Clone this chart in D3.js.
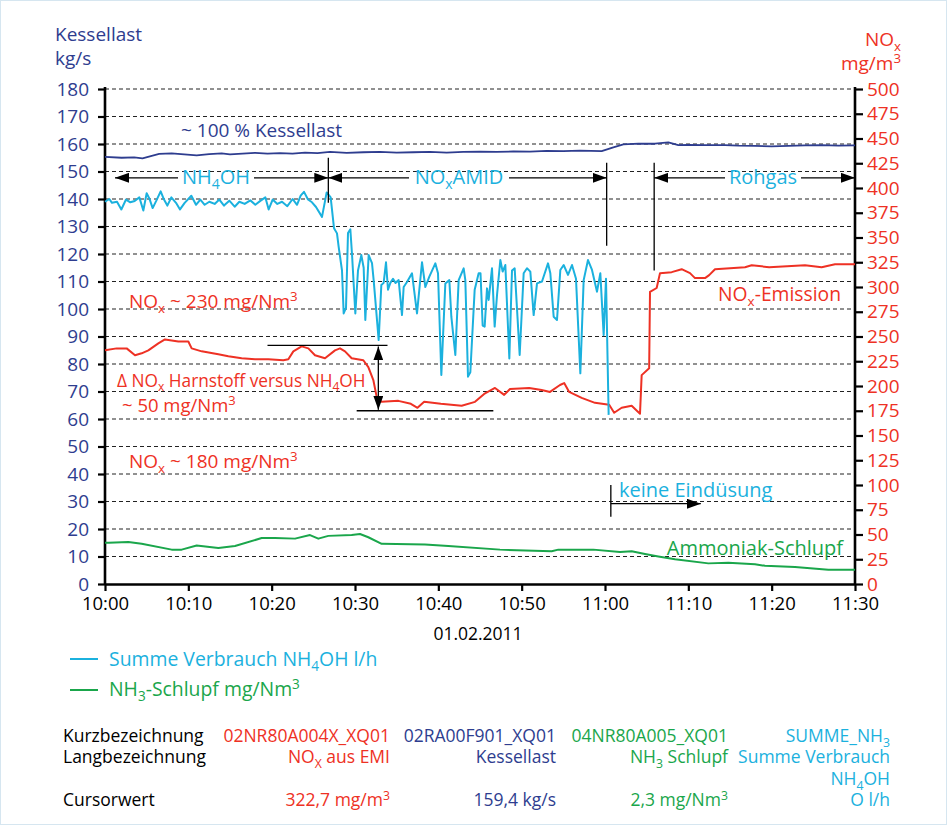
<!DOCTYPE html>
<html>
<head>
<meta charset="utf-8">
<script src="https://cdn.jsdelivr.net/npm/d3@7"></script>
<style>
  body { margin: 0; background: #fff; }
  svg { display: block; font-family: "Open Sans", sans-serif; }
</style>
</head>
<body>
<div id="chart"></div>
<script>
const BLUE = "#2e3d8f",
  RED = "#ee3124",
  CYAN = "#1bb1de",
  GREEN = "#1aa64b";

// minutes after 10:00
const kesselT = [0, 2, 3.5, 4.5, 5.5, 6.5, 8, 9.5, 11, 12.5, 14, 15, 16.5, 18, 19.5, 21, 22.5, 24, 25.5, 27, 29, 31, 33, 35, 37, 39, 41, 43, 45, 47, 49, 51, 53, 55, 57, 59.6, 61, 62.2, 64, 66, 67.6, 68.8, 70, 72, 74.4, 76, 78, 80, 82, 84, 86, 88, 90];
const kesselV = [155.3, 155.0, 155.1, 154.8, 155.6, 156.4, 156.6, 156.2, 155.9, 156.3, 156.6, 156.2, 156.5, 156.8, 156.5, 156.7, 156.5, 156.9, 156.7, 157.1, 156.8, 157.0, 157.1, 156.9, 157.0, 157.1, 156.9, 157.1, 157.2, 157.1, 157.3, 157.2, 157.5, 157.4, 157.6, 157.4, 158.8, 159.9, 160.1, 160.1, 160.6, 159.6, 159.7, 159.6, 159.6, 159.4, 159.3, 159.1, 159.3, 159.5, 159.6, 159.4, 159.5];

const noxT = [0, 1.4, 2.6, 3.6, 4.4, 5.2, 6.4, 7.2, 8.8, 10, 10.4, 11.6, 13.6, 14.8, 16.4, 18, 19.6, 21.4, 22, 22.6, 23.6, 24.4, 25.2, 26.4, 27.6, 28.2, 28.8, 29.6, 31, 31.6, 32.2, 32.6, 33.2, 35.2, 36.7, 37.5, 38.3, 40.3, 42.8, 44.4, 45.5, 46.8, 47.9, 48.6, 50.9, 52.4, 53.4, 54.6, 55.1, 55.7, 57.2, 58.8, 60.5, 61.1, 62, 63.2, 64.2, 64.4, 65.3, 65.4, 66.2, 66.6, 68, 69.2, 70.2, 70.8, 72, 72.5, 73.2, 76.8, 77.6, 79.7, 84, 86, 87.6, 90];
const noxV = [236, 238, 238, 231, 233, 236, 243, 247, 245, 245, 238, 235, 232, 230, 228, 227, 227, 226, 227, 235, 240, 238, 231, 228, 236, 238, 235, 228, 226, 219, 206, 189, 184, 185, 182, 178, 184, 182, 180, 184, 192, 198, 191, 197, 198, 196, 194, 201, 203, 194, 188, 183, 181, 173, 178, 180, 172, 211, 218, 295, 299, 314, 315, 318, 314, 309, 309, 312, 318, 320, 322, 320, 322, 320, 323, 323];

const summeT = [0, 0.52, 0.84, 1.44, 1.96, 2.52, 3.04, 3.56, 4.12, 4.6, 5.0, 5.32, 5.72, 6.16, 6.68, 7.08, 7.48, 7.96, 8.52, 9.0, 9.56, 10.36, 10.92, 11.44, 11.96, 12.52, 13.16, 13.72, 14.28, 14.92, 15.56, 16.12, 16.76, 17.44, 18.04, 18.68, 19.24, 19.64, 20.12, 20.68, 21.24, 21.88, 22.52, 23.04, 23.48, 23.88, 24.36, 24.84, 25.32, 26.04, 26.6, 27.08, 27.48, 27.84, 28.04, 28.44, 28.64, 28.92, 29.16, 29.44, 29.64, 30.04, 30.36, 30.76, 31.04, 31.24, 31.64, 32.04, 32.24, 32.84, 33.16, 33.44, 33.72, 33.96, 34.24, 34.56, 34.86, 35.24, 35.64, 35.84, 36.24, 36.84, 37.44, 38.04, 38.44, 38.92, 39.64, 39.96, 40.36, 40.84, 41.32, 41.56, 42.04, 42.44, 43.04, 43.24, 43.56, 43.84, 44.36, 44.84, 45.06, 45.32, 45.56, 45.84, 46.04, 46.44, 46.76, 47.04, 47.44, 47.72, 48.04, 48.52, 48.84, 49.16, 49.76, 50.24, 50.64, 51.04, 51.44, 51.84, 52.44, 53.16, 53.44, 53.84, 54.24, 54.64, 55.04, 55.56, 56.04, 56.52, 57.04, 57.44, 57.96, 58.44, 59.04, 59.44, 59.84, 60.12, 60.44];
const summeV = [139, 140, 138.6, 139, 136.2, 139.8, 138.8, 139.3, 140.6, 135.8, 142.1, 140.2, 136.7, 139.4, 142.8, 139.8, 137.6, 140.6, 138.6, 136.2, 138.6, 141.2, 137.9, 139.8, 137.9, 139, 138.2, 139.8, 137.6, 139.4, 137.2, 139, 138.2, 139.5, 137.9, 139.4, 140.6, 136.2, 139.8, 138.2, 139, 137.4, 140, 137.9, 141.2, 142.6, 139.8, 138.8, 137.1, 133.5, 142.4, 140.6, 129.4, 127.5, 122.6, 114, 98.4, 100.4, 127.6, 129, 120, 98.4, 114, 119.6, 115, 96, 119.6, 116.7, 110.5, 88.7, 108.7, 109.5, 117, 107, 109.5, 111, 109.5, 110.5, 97.8, 108, 109.8, 113, 98.4, 117, 108, 111.8, 116.6, 113, 76, 109.3, 110.5, 97.2, 83.3, 110.5, 114.8, 110.5, 75.4, 77, 107, 113, 113, 94, 93.6, 107.5, 103.3, 114.8, 93.6, 105, 117.8, 113.6, 116, 82, 114, 114.8, 83.3, 113, 114.8, 113.6, 97.8, 109.3, 110, 116.6, 113, 97.2, 96, 114.2, 116, 112.4, 116, 111, 76.6, 110.5, 117.8, 114.2, 106.3, 113, 90.5, 111, 61.5];

const schlupfT = [0, 0.44, 2.8, 4.4, 8, 9.2, 11, 13.6, 15.6, 18.8, 20.4, 22.8, 24.6, 25.6, 26.8, 29.6, 30.6, 31.6, 33.2, 38.4, 41.2, 47.4, 53.6, 54.4, 56.2, 58.6, 61.8, 63.2, 64.8, 66.4, 68.4, 72.4, 74.8, 78.0, 79.2, 82.8, 86.8, 90];
const schlupfV = [15, 15, 15.3, 14.6, 12.5, 12.5, 14, 13.1, 13.8, 16.7, 16.7, 16.5, 17.8, 16.5, 17.5, 17.8, 18.2, 17, 14.6, 14.4, 13.8, 12.5, 11.9, 12.5, 12.5, 12.5, 11.6, 11.9, 10.9, 10, 9, 7.5, 7.7, 7.2, 6.6, 6.2, 5.2, 5.2];

const leftTicks = d3.range(0, 181, 10),
  rightTicks = d3.range(0, 501, 25),
  phaseLabels = ["NH_{4}OH", "NO_{x}AMID", "Rohgas"],
  phaseStart = [0, 26.8, 65.9],
  phaseEnd = [26.8, 60.2, 90];

const tableHead = ["Kurzbezeichnung", "Langbezeichnung", "", "Cursorwert"],
  tableColors = [RED, BLUE, GREEN, CYAN],
  tableCols = [
    ["02NR80A004X_XQ01", "NO_{X} aus EMI", "", "322,7 mg/m^{3}"],
    ["02RA00F901_XQ01", "Kessellast", "", "159,4 kg/s"],
    ["04NR80A005_XQ01", "NH_{3} Schlupf", "", "2,3 mg/Nm^{3}"],
    ["SUMME_NH_{3}", "Summe Verbrauch", "NH_{4}OH", "O l/h"]
  ];

const WIDTH = 947,
  HEIGHT = 825,
  plotLeft = 105,
  plotRight = 855,
  plotTop = 89,
  plotBottom = 584,
  t0 = new Date(2011, 1, 1, 10, 0);

const minute = m => new Date(t0.getTime() + m * 60000);

const svg = d3.select("#chart").append("svg")
  .attr("width", WIDTH)
  .attr("height", HEIGHT);

const x = d3.scaleTime().domain([t0, minute(90)]).range([plotLeft, plotRight]),
  yL = d3.scaleLinear().domain([0, 180]).range([plotBottom, plotTop]),
  yR = d3.scaleLinear().domain([0, 500]).range([plotBottom, plotTop]);

// text with _{sub} and ^{sup} parts
function rich(sel, str, fs) {
  const parts = str.split(/(_\{[^}]*\}|\^\{[^}]*\})/).filter(p => p !== "");
  let shift = 0;
  parts.forEach(p => {
    let dy = 0, size = null, txt = p;
    if (p.startsWith("_{")) {
      txt = p.slice(2, -1); size = fs * 0.7; dy = fs * 0.26;
    } else if (p.startsWith("^{")) {
      txt = p.slice(2, -1); size = fs * 0.7; dy = -fs * 0.36;
    }
    const ts = sel.append("tspan").attr("dy", dy - shift).text(txt);
    if (size) ts.attr("font-size", size);
    shift = dy;
  });
  return sel;
}

function label(str, xp, yp, color, fs, anchor) {
  const t = svg.append("text")
    .attr("x", xp).attr("y", yp)
    .attr("fill", color)
    .attr("font-size", fs)
    .attr("text-anchor", anchor || "start");
  return rich(t, str, fs);
}

// arrowheads
const defs = svg.append("defs");
defs.append("marker")
  .attr("id", "arr")
  .attr("markerUnits", "userSpaceOnUse")
  .attr("viewBox", "0 0 14 10")
  .attr("refX", 14).attr("refY", 5)
  .attr("markerWidth", 14).attr("markerHeight", 10)
  .attr("orient", "auto-start-reverse")
  .append("path").attr("d", "M0,0L14,5L0,10Z").attr("fill", "#000");

// grid
svg.append("g")
  .selectAll("line")
  .data(leftTicks.filter(d => d > 0))
  .join("line")
  .attr("x1", plotLeft).attr("x2", plotRight)
  .attr("y1", d => yL(d)).attr("y2", d => yL(d))
  .attr("stroke", "#222")
  .attr("stroke-width", 1)
  .attr("stroke-dasharray", "4,3");

// axes
const axL = svg.append("g")
  .attr("transform", `translate(${plotLeft},0)`)
  .call(d3.axisLeft(yL).tickValues(leftTicks).tickSize(7).tickSizeOuter(0));
const axR = svg.append("g")
  .attr("transform", `translate(${plotRight},0)`)
  .call(d3.axisRight(yR).tickValues(rightTicks).tickSize(8).tickSizeOuter(0));
const axB = svg.append("g")
  .attr("transform", `translate(0,${plotBottom})`)
  .call(d3.axisBottom(x).ticks(d3.timeMinute.every(10)).tickFormat(d3.timeFormat("%H:%M")).tickSize(7).tickSizeOuter(0));

[axL, axR, axB].forEach(a => {
  a.select(".domain").attr("stroke", "#000").attr("stroke-width", 2.6);
  a.selectAll(".tick line").attr("stroke", "#000").attr("stroke-width", 2.2);
  a.selectAll("text").attr("font-size", 19).attr("font-family", "Open Sans");
});
axB.selectAll("text").attr("font-size", 18.5);
axL.select(".domain").attr("d", `M0,${plotTop - 2}V${plotBottom + 1}`);
axR.select(".domain").attr("d", `M0,${plotTop - 2}V${plotBottom + 1}`);
axL.selectAll("text").attr("fill", BLUE).attr("x", -16);
axR.selectAll("text").attr("fill", RED).attr("x", 12);
axB.selectAll("text").attr("fill", "#000").attr("y", 13);

// series
const seriesLine = (ts, vs, y, color, w) => {
  const pts = ts.map((t, i) => [x(minute(t)), y(vs[i])]);
  svg.append("path")
    .attr("d", d3.line()(pts))
    .attr("fill", "none")
    .attr("stroke", color)
    .attr("stroke-width", w)
    .attr("stroke-linejoin", "round");
};
seriesLine(schlupfT, schlupfV, yL, GREEN, 2);
seriesLine(kesselT, kesselV, yL, BLUE, 1.8);
seriesLine(noxT, noxV, yR, RED, 2);
seriesLine(summeT, summeV, yL, CYAN, 2);

// axis titles
label("Kessellast", 55, 41, BLUE, 19);
label("kg/s", 55, 65, BLUE, 19);
label("NO_{x}", 901, 46, RED, 19, "end");
label("mg/m^{3}", 901, 70, RED, 19, "end");
label("01.02.2011", 478, 640, "#000", 17.5, "middle");

// phase arrows
const arrowY = yL(147.7);
const ann = svg.append("g").attr("stroke", "#000").attr("stroke-width", 1.3);
const phaseMid = [216, 459, 763],
  phaseHalf = [38, 50, 38];
phaseLabels.forEach((lab, i) => {
  const x0 = x(minute(phaseStart[i])), x1 = x(minute(phaseEnd[i])),
    xs = i === 0 ? x0 + 10 : x0,
    xm = phaseMid[i],
    half = phaseHalf[i];
  ann.append("line").attr("x1", xm - half).attr("x2", xs).attr("y1", arrowY).attr("y2", arrowY)
    .attr("marker-end", "url(#arr)");
  ann.append("line").attr("x1", xm + half).attr("x2", x1).attr("y1", arrowY).attr("y2", arrowY)
    .attr("marker-end", "url(#arr)");
  label(lab, xm, arrowY + 6, CYAN, 20, "middle");
});
ann.append("line").attr("x1", x(minute(26.8))).attr("x2", x(minute(26.8)))
  .attr("y1", arrowY - 20).attr("y2", arrowY + 25);
ann.append("line").attr("x1", x(minute(60.2))).attr("x2", x(minute(60.2)))
  .attr("y1", arrowY - 15).attr("y2", yL(123));
ann.append("line").attr("x1", x(minute(65.9))).attr("x2", x(minute(65.9)))
  .attr("y1", arrowY - 15).attr("y2", yL(114));

// delta NOx
ann.append("line").attr("x1", x(minute(19.5))).attr("x2", x(minute(33.9)))
  .attr("y1", yR(241)).attr("y2", yR(241));
ann.append("line").attr("x1", x(minute(30.2))).attr("x2", x(minute(46.6)))
  .attr("y1", yR(175)).attr("y2", yR(175));
ann.append("line").attr("x1", x(minute(32.8))).attr("x2", x(minute(32.8)))
  .attr("y1", yR(240)).attr("y2", yR(176))
  .attr("marker-start", "url(#arr)").attr("marker-end", "url(#arr)");

// keine Eindüsung
ann.append("line").attr("x1", x(minute(60.7))).attr("x2", x(minute(60.7)))
  .attr("y1", yL(36)).attr("y2", yL(24.5));
ann.append("line").attr("x1", x(minute(60.7))).attr("x2", x(minute(71.5)))
  .attr("y1", yL(29.2)).attr("y2", yL(29.2))
  .attr("marker-end", "url(#arr)");

// annotations
label("~ 100 % Kessellast", 181, 137, BLUE, 19);
label("NO_{x} ~ 230 mg/Nm^{3}", 129, 308, RED, 19);
label("\u0394 NO_{x} Harnstoff versus NH_{4}OH", 117, 387, RED, 17.3);
label("~ 50 mg/Nm^{3}", 122, 412, RED, 18.5);
label("NO_{x} ~ 180 mg/Nm^{3}", 129, 468, RED, 19);
label("NO_{x}-Emission", 841, 301, RED, 19.3, "end");
label("keine Eindüsung", 619, 497, CYAN, 20);
label("Ammoniak-Schlupf", 843, 555, GREEN, 20, "end");

// legend
svg.append("line").attr("x1", 70).attr("x2", 98).attr("y1", 659).attr("y2", 659)
  .attr("stroke", CYAN).attr("stroke-width", 2);
label("Summe Verbrauch NH_{4}OH l/h", 109, 666, CYAN, 19.4);
svg.append("line").attr("x1", 70).attr("x2", 98).attr("y1", 690).attr("y2", 690)
  .attr("stroke", GREEN).attr("stroke-width", 2);
label("NH_{3}-Schlupf mg/Nm^{3}", 109, 696, GREEN, 19.4);

// table
const rowY = [742, 763, 785, 806],
  colX = [390, 556, 728, 890];
tableHead.forEach((h, r) => { if (h) label(h, 63, rowY[r], "#000", 17.5); });
tableCols.forEach((col, c) => {
  col.forEach((txt, r) => {
    if (txt) label(txt, colX[c], rowY[r], tableColors[c], 17.5, "end");
  });
});

// frame
svg.append("rect").attr("x", 0.5).attr("y", 0.5).attr("width", WIDTH - 1).attr("height", HEIGHT - 1)
  .attr("fill", "none").attr("stroke", "#d6e6f0");
</script>
</body>
</html>
